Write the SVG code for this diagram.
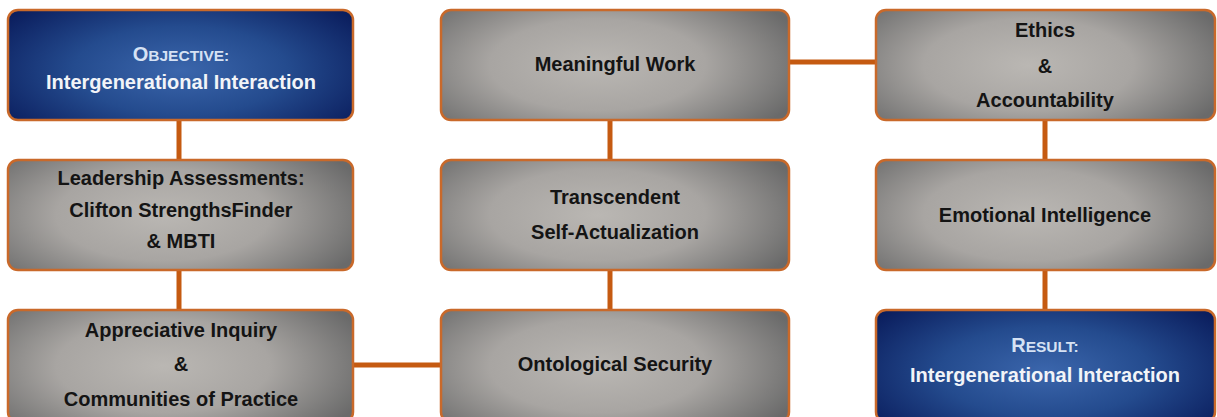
<svg xmlns="http://www.w3.org/2000/svg" width="1217" height="417" viewBox="0 0 1217 417">
<defs>
<radialGradient id="gGray" cx="0.45" cy="0.5" r="0.62" gradientTransform="translate(0.45,0.5) scale(1,1.35) translate(-0.45,-0.5)">
<stop offset="0" stop-color="#bab7b3"/>
<stop offset="0.5" stop-color="#a8a5a2"/>
<stop offset="1" stop-color="#6a6a6a"/>
</radialGradient>
<radialGradient id="gBlue" cx="0.5" cy="0.55" r="0.62" gradientTransform="translate(0.5,0.55) scale(1,1.3) translate(-0.5,-0.55)">
<stop offset="0" stop-color="#3b66ac"/>
<stop offset="0.5" stop-color="#244b8e"/>
<stop offset="1" stop-color="#0b1e5e"/>
</radialGradient>
</defs>
<style>
.box{stroke:#c9692a;stroke-width:2.5}
.gray{fill:url(#gGray)}
.blue{fill:url(#gBlue)}
.t{font-family:"Liberation Sans",Arial,sans-serif;font-weight:bold;font-size:20px;text-anchor:middle;fill:#141414}
.w{fill:#f2f4f8}
.h{fill:#d6e2f4}
.sc{font-size:15.5px}
.conn{stroke:#c55a11;stroke-width:5;fill:none}
</style>
<rect width="1217" height="417" fill="#ffffff"/>
<g id="connectors">
<line class="conn" x1="179" y1="120" x2="179" y2="160"/>
<line class="conn" x1="179" y1="270" x2="179" y2="310"/>
<line class="conn" x1="610" y1="120" x2="610" y2="160"/>
<line class="conn" x1="610" y1="270" x2="610" y2="310"/>
<line class="conn" x1="1045" y1="120" x2="1045" y2="160"/>
<line class="conn" x1="1045" y1="270" x2="1045" y2="310"/>
<line class="conn" x1="789" y1="62" x2="876" y2="62"/>
<line class="conn" x1="353" y1="365" x2="441" y2="365"/>
</g>
<g id="objective">
<rect class="box blue" x="8" y="10" width="345" height="110" rx="10"/>
<text class="t h" x="181" y="61">O<tspan class="sc">BJECTIVE:</tspan></text>
<text class="t w" x="181" y="89">Intergenerational Interaction</text>
</g>
<g id="leadership">
<rect class="box gray" x="8" y="160" width="345" height="110" rx="10"/>
<text class="t" x="181" y="185">Leadership Assessments:</text>
<text class="t" x="181" y="217">Clifton StrengthsFinder</text>
<text class="t" x="181" y="248">&amp; MBTI</text>
</g>
<g id="appreciative">
<rect class="box gray" x="8" y="310" width="345" height="112" rx="10"/>
<text class="t" x="181" y="337">Appreciative Inquiry</text>
<text class="t" x="181" y="371">&amp;</text>
<text class="t" x="181" y="406">Communities of Practice</text>
</g>
<g id="meaningful">
<rect class="box gray" x="441" y="10" width="348" height="110" rx="10"/>
<text class="t" x="615" y="71">Meaningful Work</text>
</g>
<g id="transcendent">
<rect class="box gray" x="441" y="160" width="348" height="110" rx="10"/>
<text class="t" x="615" y="204">Transcendent</text>
<text class="t" x="615" y="239">Self-Actualization</text>
</g>
<g id="ontological">
<rect class="box gray" x="441" y="310" width="348" height="112" rx="10"/>
<text class="t" x="615" y="371">Ontological Security</text>
</g>
<g id="ethics">
<rect class="box gray" x="876" y="10" width="339" height="110" rx="10"/>
<text class="t" x="1045" y="37">Ethics</text>
<text class="t" x="1045" y="73">&amp;</text>
<text class="t" x="1045" y="107">Accountability</text>
</g>
<g id="emotional">
<rect class="box gray" x="876" y="160" width="339" height="110" rx="10"/>
<text class="t" x="1045" y="222">Emotional Intelligence</text>
</g>
<g id="result">
<rect class="box blue" x="876" y="310" width="339" height="112" rx="10"/>
<text class="t h" x="1045" y="352">R<tspan class="sc">ESULT:</tspan></text>
<text class="t w" x="1045" y="382">Intergenerational Interaction</text>
</g>
</svg>
